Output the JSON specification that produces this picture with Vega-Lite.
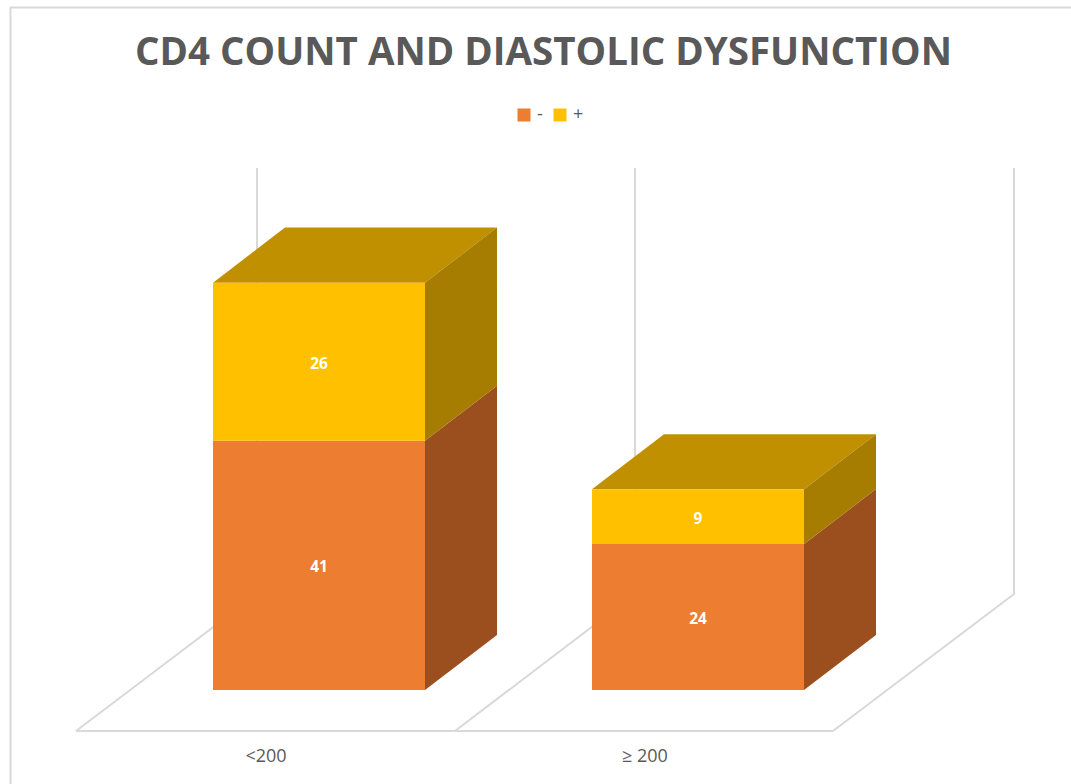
{
  "$schema": "https://vega.github.io/schema/vega-lite/v6.json",
  "width": 1071,
  "height": 563,
  "autosize": "none",
  "padding": {"left": 0, "right": 0, "top": 168, "bottom": 53},
  "background": "white",
  "view": {"stroke": null},
  "title": {
    "text": "CD4 COUNT AND DIASTOLIC DYSFUNCTION",
    "font": "Open Sans",
    "fontSize": 38.5,
    "fontWeight": 700,
    "color": "#595959",
    "anchor": "middle",
    "frame": "group",
    "dx": 8,
    "dy": 100,
    "offset": 0,
    "baseline": "alphabetic"
  },
  "datasets": {
    "bars": [
      {"category": "<200", "status": "-", "count": 41, "left": 0.7203, "right": 1.2797, "low": 0, "high": 41, "mid": 20.5},
      {"category": "<200", "status": "+", "count": 26, "left": 0.7203, "right": 1.2797, "low": 41, "high": 67, "mid": 54},
      {"category": "≥ 200", "status": "-", "count": 24, "left": 1.7203, "right": 2.2797, "low": 0, "high": 24, "mid": 12},
      {"category": "≥ 200", "status": "+", "count": 9, "left": 1.7203, "right": 2.2797, "low": 24, "high": 33, "mid": 28.5}
    ],
    "sides": [
      {"category": "<200", "status": "-", "x": 1.2797, "low": 0, "high": 41},
      {"category": "<200", "status": "-", "x": 1.4697, "low": 9.05, "high": 50.05},
      {"category": "<200", "status": "+", "x": 1.2797, "low": 41, "high": 67},
      {"category": "<200", "status": "+", "x": 1.4697, "low": 50.05, "high": 76.05},
      {"category": "≥ 200", "status": "-", "x": 2.2797, "low": 0, "high": 24},
      {"category": "≥ 200", "status": "-", "x": 2.4697, "low": 9.05, "high": 33.05},
      {"category": "≥ 200", "status": "+", "x": 2.2797, "low": 24, "high": 33},
      {"category": "≥ 200", "status": "+", "x": 2.4697, "low": 33.05, "high": 42.05}
    ],
    "tops": [
      {"category": "<200", "x": 0.7203, "low": 67, "high": 67},
      {"category": "<200", "x": 0.9103, "low": 67, "high": 76.05},
      {"category": "<200", "x": 1.2797, "low": 67, "high": 76.05},
      {"category": "<200", "x": 1.4697, "low": 76.05, "high": 76.05},
      {"category": "≥ 200", "x": 1.7203, "low": 33, "high": 33},
      {"category": "≥ 200", "x": 1.9103, "low": 33, "high": 42.05},
      {"category": "≥ 200", "x": 2.2797, "low": 33, "high": 42.05},
      {"category": "≥ 200", "x": 2.4697, "low": 42.05, "high": 42.05}
    ],
    "frame": [
      {"path": "wall1", "order": 1, "x": 0.3588, "y": -6.743},
      {"path": "wall1", "order": 2, "x": 0.8364, "y": 15.79},
      {"path": "wall1", "order": 3, "x": 0.8364, "y": 85.855},
      {"path": "wall2", "order": 1, "x": 1.3588, "y": -6.743},
      {"path": "wall2", "order": 2, "x": 1.8338, "y": 15.79},
      {"path": "wall2", "order": 3, "x": 1.8338, "y": 85.855},
      {"path": "wall3", "order": 1, "x": 2.3562, "y": -6.743},
      {"path": "wall3", "order": 2, "x": 2.8338, "y": 15.79},
      {"path": "wall3", "order": 3, "x": 2.8338, "y": 85.855},
      {"path": "floor", "order": 1, "x": 0.3588, "y": -6.743},
      {"path": "floor", "order": 2, "x": 2.3562, "y": -6.743},
      {"path": "page", "order": 1, "x": 0.186, "y": -15.46},
      {"path": "page", "order": 2, "x": 0.186, "y": 112.25},
      {"path": "page", "order": 3, "x": 2.9842, "y": 112.25}
    ]
  },
  "layer": [
    {
      "data": {"name": "frame"},
      "mark": {"type": "line", "color": "#d9d9d9", "strokeWidth": 2, "clip": false},
      "encoding": {
        "x": {
          "field": "x",
          "type": "quantitative",
          "scale": {"domain": [0.1583, 2.9842], "nice": false, "zero": false},
          "axis": {
            "values": [0.8588, 1.8588],
            "labelExpr": "datum.value < 1 ? '<200' : '≥ 200'",
            "title": null,
            "domain": false,
            "ticks": false,
            "grid": false,
            "labelFont": "Open Sans",
            "labelFontSize": 18,
            "labelColor": "#595959",
            "labelPadding": 16,
            "labelOverlap": false
          }
        },
        "y": {
          "field": "y",
          "type": "quantitative",
          "scale": {"domain": [-6.743, 85.855], "nice": false, "zero": false},
          "axis": null
        },
        "detail": {"field": "path"},
        "order": {"field": "order"}
      }
    },
    {
      "data": {"name": "tops"},
      "mark": {"type": "area", "color": "#c19000", "clip": false},
      "encoding": {
        "x": {"field": "x", "type": "quantitative"},
        "y": {"field": "low", "type": "quantitative"},
        "y2": {"field": "high"},
        "detail": {"field": "category"}
      }
    },
    {
      "data": {"name": "sides"},
      "transform": [{"filter": "datum.status === '-'"}],
      "mark": {"type": "area", "color": "#9b4f1e", "clip": false},
      "encoding": {
        "x": {"field": "x", "type": "quantitative"},
        "y": {"field": "low", "type": "quantitative"},
        "y2": {"field": "high"},
        "detail": {"field": "category"}
      }
    },
    {
      "data": {"name": "sides"},
      "transform": [{"filter": "datum.status === '+'"}],
      "mark": {"type": "area", "color": "#a67d00", "clip": false},
      "encoding": {
        "x": {"field": "x", "type": "quantitative"},
        "y": {"field": "low", "type": "quantitative"},
        "y2": {"field": "high"},
        "detail": {"field": "category"}
      }
    },
    {
      "data": {"name": "bars"},
      "mark": {"type": "rect", "strokeWidth": 0},
      "encoding": {
        "x": {"field": "left", "type": "quantitative"},
        "x2": {"field": "right"},
        "y": {"field": "low", "type": "quantitative"},
        "y2": {"field": "high"},
        "color": {
          "field": "status",
          "type": "nominal",
          "scale": {"domain": ["-", "+"], "range": ["#ed7d31", "#ffc000"]},
          "legend": {
            "title": null,
            "orient": "none",
            "legendX": 515,
            "legendY": -62,
            "direction": "horizontal",
            "columns": 2,
            "padding": 0,
            "symbolType": "square",
            "symbolSize": 169,
            "symbolStrokeWidth": 0,
            "symbolOpacity": 1,
            "labelFont": "Open Sans",
            "labelFontSize": 18,
            "labelColor": "#595959",
            "labelOffset": 4,
            "columnPadding": 8
          }
        }
      }
    },
    {
      "data": {"name": "bars"},
      "transform": [{"calculate": "(datum.left + datum.right) / 2", "as": "centre"}],
      "mark": {"type": "text", "color": "white", "font": "Open Sans", "fontWeight": 700, "fontSize": 15.5, "dy": 2},
      "encoding": {
        "x": {"field": "centre", "type": "quantitative"},
        "y": {"field": "mid", "type": "quantitative"},
        "text": {"field": "count", "type": "quantitative"}
      }
    }
  ]
}
